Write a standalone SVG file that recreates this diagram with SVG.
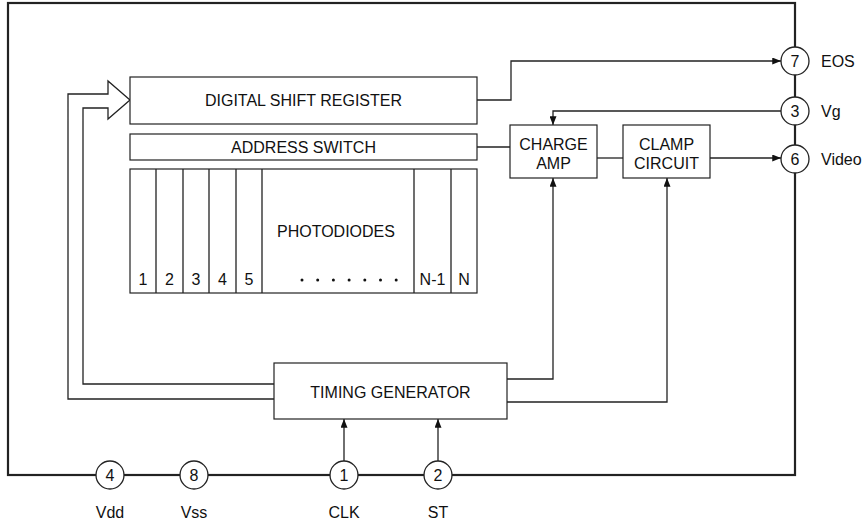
<svg xmlns="http://www.w3.org/2000/svg" width="863" height="523" viewBox="0 0 863 523">
<defs>
<marker id="arr" viewBox="0 0 10 8" refX="10" refY="4" markerWidth="9" markerHeight="7" markerUnits="userSpaceOnUse" orient="auto">
<path d="M0,0 L10,4 L0,8 Z" fill="#111"/>
</marker>
<style>
.box{fill:#fff;stroke:#222;stroke-width:1.2}
.t{font-family:"Liberation Sans",Arial,sans-serif;font-size:16px;fill:#111;text-anchor:middle;dominant-baseline:central}
.ts{font-family:"Liberation Sans",Arial,sans-serif;font-size:16px;fill:#111;text-anchor:middle;dominant-baseline:central}
.tl{font-family:"Liberation Sans",Arial,sans-serif;font-size:16px;fill:#111;text-anchor:start;dominant-baseline:central}
.ln{fill:none;stroke:#222;stroke-width:1.3}
.pin{fill:#fff;stroke:#222;stroke-width:1.3}
.dot{fill:#111}
</style>
</defs>
<rect id="package" x="8" y="3" width="787" height="472" fill="none" stroke="#222" stroke-width="2.2"/>

<g id="connectors">
<path class="ln" d="M274,399 H68 V94 H108 V81 L130,100 L108,119 V108 H83 V384 H274"/>
<path class="ln" d="M477,100 H511 V61 H781" marker-end="url(#arr)"/>
<path class="ln" d="M781,111 H553 V125" marker-end="url(#arr)"/>
<path class="ln" d="M477,147 H510"/>
<path class="ln" d="M597,158 H623"/>
<path class="ln" d="M710,158 H781" marker-end="url(#arr)"/>
<path class="ln" d="M507,379 H553 V178" marker-end="url(#arr)"/>
<path class="ln" d="M507,402 H667 V178" marker-end="url(#arr)"/>
<path class="ln" d="M344,461 V419" marker-end="url(#arr)"/>
<path class="ln" d="M438,461 V419" marker-end="url(#arr)"/>
</g>

<g id="shift-register">
<rect class="box" x="130" y="77" width="347" height="47"/>
<text class="t" x="303.5" y="100.5">DIGITAL SHIFT REGISTER</text>
</g>
<g id="address-switch">
<rect class="box" x="130" y="134" width="347" height="26"/>
<text class="t" x="303.5" y="147">ADDRESS SWITCH</text>
</g>
<g id="photodiodes">
<rect class="box" x="130" y="169" width="347" height="124"/>
<path class="ln" d="M156,169 V293 M183,169 V293 M209,169 V293 M236,169 V293 M262,169 V293 M414,169 V293 M451,169 V293" stroke-width="1.1"/>
<text class="t" x="336" y="231">PHOTODIODES</text>
<text class="ts" x="143" y="279">1</text>
<text class="ts" x="169.5" y="279">2</text>
<text class="ts" x="196" y="279">3</text>
<text class="ts" x="222.5" y="279">4</text>
<text class="ts" x="249" y="279">5</text>
<text class="ts" x="432.5" y="279">N-1</text>
<text class="ts" x="464" y="279">N</text>
<circle class="dot" cx="302" cy="280" r="1.5"/>
<circle class="dot" cx="317.7" cy="280" r="1.5"/>
<circle class="dot" cx="333.4" cy="280" r="1.5"/>
<circle class="dot" cx="349.1" cy="280" r="1.5"/>
<circle class="dot" cx="364.8" cy="280" r="1.5"/>
<circle class="dot" cx="380.5" cy="280" r="1.5"/>
<circle class="dot" cx="396.2" cy="280" r="1.5"/>
</g>
<g id="charge-amp">
<rect class="box" x="510" y="125" width="87" height="53"/>
<text class="t" x="553.5" y="144">CHARGE</text>
<text class="t" x="553.5" y="163">AMP</text>
</g>
<g id="clamp-circuit">
<rect class="box" x="623" y="125" width="87" height="53"/>
<text class="t" x="666.5" y="144">CLAMP</text>
<text class="t" x="666.5" y="163">CIRCUIT</text>
</g>
<g id="timing-generator">
<rect class="box" x="274" y="363" width="233" height="56"/>
<text class="t" x="390.5" y="392">TIMING GENERATOR</text>
</g>

<g id="pin7"><circle class="pin" cx="795" cy="61" r="14"/><text class="ts" x="795" y="61">7</text><text class="tl" x="821" y="61">EOS</text></g>
<g id="pin3"><circle class="pin" cx="795" cy="111" r="14"/><text class="ts" x="795" y="111">3</text><text class="tl" x="821" y="111">Vg</text></g>
<g id="pin6"><circle class="pin" cx="795" cy="159" r="14"/><text class="ts" x="795" y="159">6</text><text class="tl" x="821" y="159">Video</text></g>
<g id="pin4"><circle class="pin" cx="110" cy="475" r="14"/><text class="ts" x="110" y="475">4</text><text class="t" x="110" y="512">Vdd</text></g>
<g id="pin8"><circle class="pin" cx="194" cy="475" r="14"/><text class="ts" x="194" y="475">8</text><text class="t" x="194" y="512">Vss</text></g>
<g id="pin1"><circle class="pin" cx="344" cy="475" r="14"/><text class="ts" x="344" y="475">1</text><text class="t" x="344" y="512">CLK</text></g>
<g id="pin2"><circle class="pin" cx="438" cy="475" r="14"/><text class="ts" x="438" y="475">2</text><text class="t" x="438" y="512">ST</text></g>
</svg>
